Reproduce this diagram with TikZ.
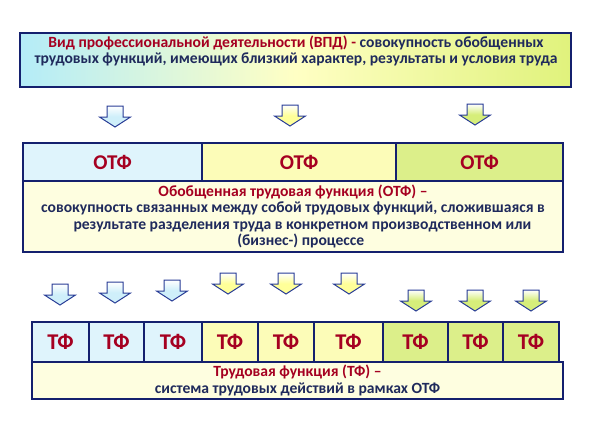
\documentclass[tikz,border=0pt]{standalone}
\usepackage{fontspec}
\setmainfont{Carlito}
\definecolor{navy}{HTML}{14206E}
\definecolor{redtxt}{HTML}{A50021}
\definecolor{txtblue}{HTML}{1F2A5C}
\definecolor{lblue}{HTML}{DFF4FC}
\definecolor{lyel}{HTML}{FCFCB8}
\definecolor{lgrn}{HTML}{DCEF8A}
\definecolor{cream}{HTML}{FEFEE0}
\definecolor{arrline}{HTML}{283C96}
\definecolor{arrblue}{HTML}{CFEFFA}
\definecolor{arryel}{HTML}{FFFF99}
\definecolor{arrgrn}{HTML}{D6EE7A}
\definecolor{vpdL}{HTML}{B4ECF8}
\definecolor{vpdM}{HTML}{FFFFC4}
\definecolor{vpdR}{HTML}{E0F27C}

\begin{document}
\begin{tikzpicture}[x=1pt,y=-1pt,
  box/.style={draw=navy, line width=2.2pt, inner sep=0pt, outer sep=0pt},
  otfcell/.style={box, minimum height=38pt, text=redtxt, font=\bfseries\fontsize{21}{24}\selectfont},
  tfcell/.style={draw=navy, line width=1.5pt, inner sep=0pt, outer sep=0pt, minimum height=40pt, text=redtxt, font=\bfseries\fontsize{22.5}{24}\selectfont},
  blurb/.style={align=center, text=txtblue, font=\bfseries\fontsize{15.6}{16.3}\selectfont},
  blockarr/.style={draw=arrline, line width=1pt, line join=miter}]
\useasboundingbox (0,0) rectangle (591,421);

% top box (VPD)
\node[box, minimum width=551pt, minimum height=54pt, left color=vpdL, right color=vpdR, middle color=vpdM] (vpd) at (295.5,60) {};
\node[blurb] (vpdtxt) at (296,51) {{\color{redtxt}Вид профессиональной деятельности (ВПД) -} совокупность обобщенных\\трудовых функций, имеющих близкий характер, результаты и условия труда};

% arrows
\foreach \cx/\ty/\col in {115/106/arrblue, 290/105/arryel, 475/104/arrgrn,
    60/284/arrblue, 115/282/arrblue, 172/280/arrblue,
    228/273/arryel, 286/273/arryel, 349/273/arryel,
    416/290/arrgrn, 475/290/arrgrn, 531/290/arrgrn}
  \draw[blockarr, top color=white, bottom color=\col, middle color=\col]
    (\cx-8,\ty) -- (\cx+8,\ty) -- (\cx+8,\ty+11) -- (\cx+15.5,\ty+11)
    -- (\cx,\ty+21) -- (\cx-15.5,\ty+11) -- (\cx-8,\ty+11) -- cycle;

% OTF row
\node[otfcell, fill=lblue, minimum width=179pt] (otf1) at (112.5,162) {ОТФ};
\node[otfcell, fill=lyel, minimum width=194pt] (otf2) at (299,162) {ОТФ};
\node[otfcell, fill=lgrn, minimum width=167pt] (otf3) at (479.5,162) {ОТФ};
\node[box, fill=cream, minimum width=540pt, minimum height=71pt] (otfdesc) at (293,216.5) {};
\node[blurb] (otftxt) at (otfdesc.center) {{\color{redtxt}Обобщенная трудовая функция (ОТФ) –}\\совокупность связанных между собой трудовых функций, сложившаяся в\\\hspace*{1.2em}результате разделения труда в конкретном производственном или\\\hspace*{1em}(бизнес-) процессе};

% TF row
\foreach \a/\b/\col [count=\i] in {32/89/lblue, 89/144/lblue, 144/202/lblue,
    202/258/lyel, 258/314/lyel, 314/383/lyel,
    383/448/lgrn, 448/503/lgrn, 503/559/lgrn}
  \node[tfcell, fill=\col, minimum width={(\b-\a)*1pt}] (tf\i) at ({(\a+\b)/2},342) {ТФ};
\draw[box] (tf1.north west) rectangle (tf3.south east);
\draw[box] (tf4.north west) rectangle (tf6.south east);
\draw[box] (tf7.north west) rectangle (tf9.south east);
\node[box, fill=cream, minimum width=531pt, minimum height=37pt] (tfdesc) at (297.5,380.5) {};
\node[blurb] (tftxt) at (tfdesc.center) {{\color{redtxt}Трудовая функция (ТФ) –}\\система трудовых действий в рамках ОТФ};
\end{tikzpicture}
\end{document}
